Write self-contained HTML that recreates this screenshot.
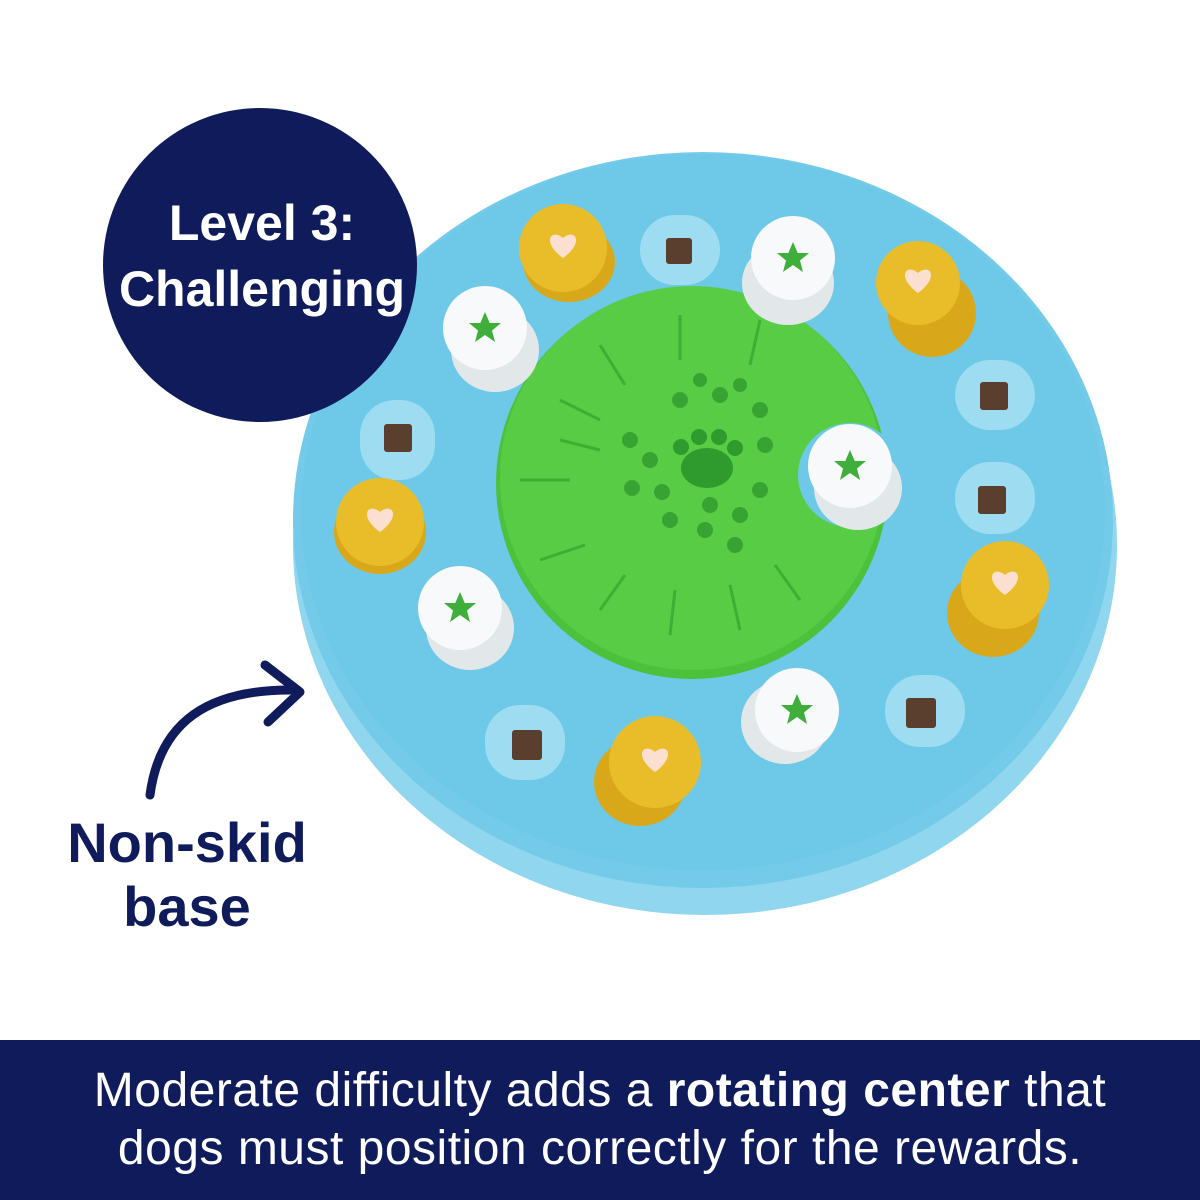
<!DOCTYPE html>
<html><head><meta charset="utf-8"><style>
html,body{margin:0;padding:0;background:#fff;}
body{width:1200px;height:1200px;position:relative;overflow:hidden;font-family:"Liberation Sans",sans-serif;}
.band{position:absolute;left:0;top:1040px;width:1200px;height:160px;background:#0f1b5a;color:#fff;text-align:center;font-size:48px;line-height:58px;padding-top:22px;box-sizing:border-box;letter-spacing:0.5px;}
</style></head><body>
<svg width="1200" height="1040" style="position:absolute;left:0;top:0">
<defs>
<g id="heart"><path d="M0,10 C-22,-6 -12,-20 0,-10 C12,-20 22,-6 0,10Z" fill="#fbe0d2"/></g>
<g id="star"><polygon points="0,-16 4.7,-5 16,-5 7,2.5 10,14 0,7 -10,14 -7,2.5 -16,-5 -4.7,-5" fill="#3fae3a"/></g>
</defs>
<ellipse cx="705" cy="545" rx="412" ry="370" fill="#8fd6ee"/>
<ellipse cx="703" cy="520" rx="410" ry="368" fill="#74cbe9"/>
<ellipse cx="703" cy="512" rx="402" ry="358" fill="#6ec8e8"/>
<g fill="#9ddcf1">
<rect x="640" y="215" width="80" height="70" rx="35"/>
<rect x="955" y="360" width="80" height="70" rx="35"/>
<rect x="360" y="400" width="75" height="80" rx="35"/>
<rect x="955" y="462" width="80" height="72" rx="35"/>
<rect x="885" y="675" width="80" height="72" rx="35"/>
<rect x="485" y="705" width="80" height="75" rx="35"/>
</g>
<g fill="#5a3e2e">
<rect x="666" y="238" width="26" height="26" rx="3"/>
<rect x="980" y="382" width="28" height="28" rx="3"/>
<rect x="384" y="424" width="28" height="28" rx="3"/>
<rect x="978" y="486" width="28" height="28" rx="3"/>
<rect x="906" y="698" width="30" height="30" rx="3"/>
<rect x="512" y="730" width="30" height="30" rx="3"/>
</g>
<circle cx="692" cy="483" r="196" fill="#4cc23c"/>
<circle cx="692" cy="478" r="192" fill="#58cc45"/>
<circle cx="850" cy="475" r="52" fill="#6ec8e8"/>
<g fill="#2f9a2e">
<ellipse cx="707" cy="468" rx="26" ry="20"/>
<circle cx="681" cy="447" r="8"/><circle cx="699" cy="437" r="8"/><circle cx="719" cy="437" r="8"/><circle cx="735" cy="448" r="8"/>
<g opacity="0.8">
<circle cx="630" cy="440" r="8"/><circle cx="650" cy="460" r="8"/><circle cx="632" cy="488" r="8"/><circle cx="662" cy="492" r="8"/>
<circle cx="680" cy="400" r="8"/><circle cx="720" cy="395" r="8"/><circle cx="760" cy="410" r="8"/><circle cx="765" cy="445" r="8"/>
<circle cx="670" cy="520" r="8"/><circle cx="705" cy="530" r="8"/><circle cx="740" cy="515" r="8"/><circle cx="760" cy="490" r="8"/>
<circle cx="710" cy="505" r="8"/><circle cx="735" cy="545" r="8"/><circle cx="700" cy="380" r="7"/><circle cx="740" cy="385" r="7"/>
</g></g>
<g stroke="#3fae35" stroke-width="3" fill="none">
<path d="M520,480 h50 M600,345 l25,40 M680,315 v45 M760,320 l-10,45 M560,400 l40,20 M540,560 l45,-15 M600,610 l25,-35 M670,635 l5,-45 M740,630 l-10,-45 M800,600 l-25,-35 M560,440 l40,10"/>
</g>
<g>
<g transform="translate(563,248)"><ellipse cx="6" cy="14" rx="46" ry="40" fill="#d9a81a"/><circle r="44" fill="#e9bd29"/><use href="#heart"/></g>
<g transform="translate(918,283)"><ellipse cx="14" cy="30" rx="44" ry="44" fill="#d9a81a"/><circle r="42" fill="#e9bd29"/><use href="#heart"/></g>
<g transform="translate(380,522)"><ellipse cx="0" cy="10" rx="46" ry="42" fill="#d9a81a"/><circle r="44" fill="#e9bd29"/><use href="#heart"/></g>
<g transform="translate(1005,585)"><ellipse cx="-12" cy="28" rx="46" ry="44" fill="#d9a81a"/><circle r="44" fill="#e9bd29"/><use href="#heart"/></g>
<g transform="translate(655,762)"><ellipse cx="-15" cy="20" rx="46" ry="44" fill="#d9a81a"/><circle r="46" fill="#e9bd29"/><use href="#heart"/></g>
</g>
<g>
<g transform="translate(485,328)"><ellipse cx="10" cy="22" rx="44" ry="42" fill="#e2e7ea"/><circle r="42" fill="#f7f9fa"/><use href="#star"/></g>
<g transform="translate(793,258)"><ellipse cx="-5" cy="25" rx="46" ry="42" fill="#e2e7ea"/><circle r="42" fill="#f7f9fa"/><use href="#star"/></g>
<g transform="translate(850,466)"><ellipse cx="8" cy="22" rx="44" ry="42" fill="#e2e7ea"/><circle r="42" fill="#f7f9fa"/><use href="#star"/></g>
<g transform="translate(460,608)"><ellipse cx="10" cy="20" rx="44" ry="42" fill="#e2e7ea"/><circle r="42" fill="#f7f9fa"/><use href="#star"/></g>
<g transform="translate(797,710)"><ellipse cx="-12" cy="12" rx="44" ry="42" fill="#e2e7ea"/><circle r="42" fill="#f7f9fa"/><use href="#star"/></g>
</g>
<circle cx="260" cy="265" r="157" fill="#0f1b5a"/>
<text x="262" y="240" text-anchor="middle" font-family="Liberation Sans" font-weight="bold" font-size="50" fill="#fff">Level 3:</text>
<text x="262" y="306" text-anchor="middle" font-family="Liberation Sans" font-weight="bold" font-size="50" fill="#fff">Challenging</text>
<path d="M150,795 C160,720 210,690 290,690" stroke="#0f1b5a" stroke-width="9" fill="none" stroke-linecap="round"/>
<path d="M265,665 L300,692 L268,722" stroke="#0f1b5a" stroke-width="9" fill="none" stroke-linecap="round" stroke-linejoin="round"/>
<text x="187" y="862" text-anchor="middle" font-family="Liberation Sans" font-weight="bold" font-size="56" fill="#0f1b5a">Non-skid</text>
<text x="187" y="926" text-anchor="middle" font-family="Liberation Sans" font-weight="bold" font-size="56" fill="#0f1b5a">base</text>
</svg>
<div class="band">Moderate difficulty adds a <b>rotating center</b> that<br>dogs must position correctly for the rewards.</div>
</body></html>
